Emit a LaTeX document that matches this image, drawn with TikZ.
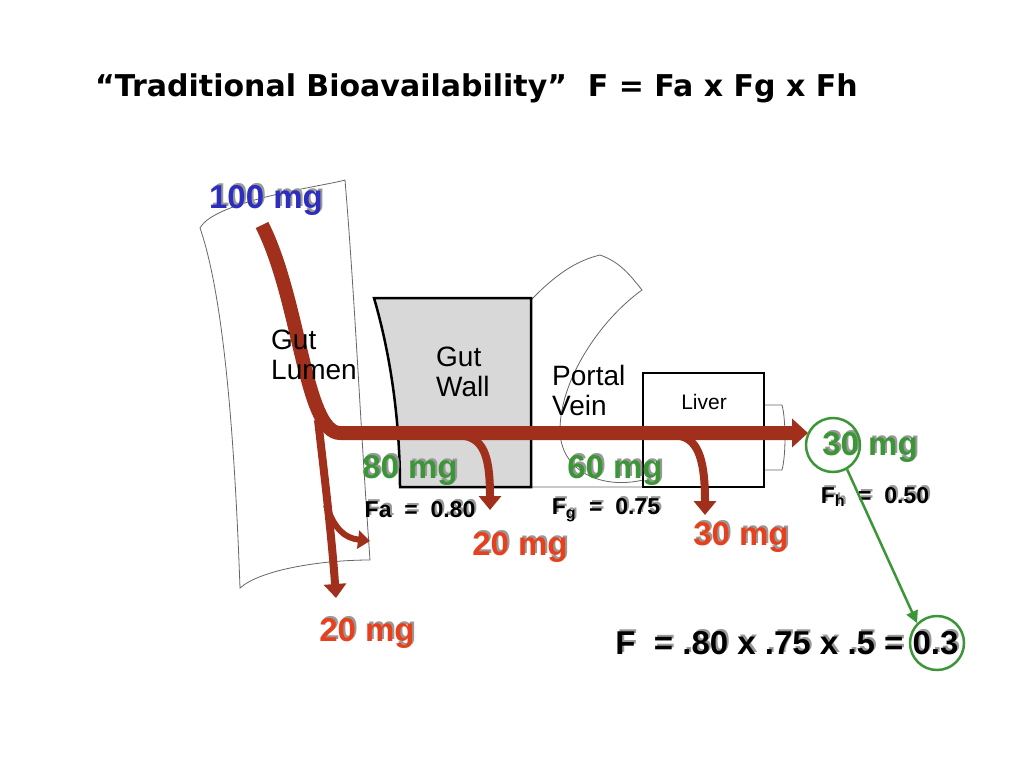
\documentclass[tikz,border=0pt]{standalone}
\usepackage{fontspec}
\setmainfont{Liberation Sans}
\newfontfamily\titlefont{DejaVu Sans}
\usetikzlibrary{arrows.meta}
\definecolor{flow}{RGB}{160,48,28}
\definecolor{redt}{RGB}{232,64,28}
\definecolor{greent}{RGB}{60,150,55}
\definecolor{bluet}{RGB}{45,45,190}
\definecolor{wallg}{RGB}{216,216,216}
\tikzset{
  outl/.style={draw=black!60,line width=0.8pt},
  box/.style={draw=black,line width=2.5pt},
  flw/.style={draw=flow,line width=14pt},
  flwthin/.style={draw=flow,line width=8pt},
  lab/.style={font=\fontsize{28}{30}\selectfont,align=left,inner sep=0pt,anchor=west},
  big/.style={font=\bfseries\fontsize{33}{36}\selectfont,inner sep=0pt},
  small/.style={font=\bfseries\fontsize{23}{25}\selectfont,inner sep=0pt},
  ring/.style={draw=greent,line width=2.5pt,circle,minimum size=54pt,inner sep=0pt},
}
\newcommand\shlabel[5]{%
  \node[#3,text=black!40] at ([xshift=2pt,yshift=2pt]#2) {#5};
  \node[#3,text=#4] (#1) at (#2) {#5};}
\begin{document}
\begin{tikzpicture}[x=1pt,y=-1pt]
\useasboundingbox[fill=white] (0,0) rectangle (1024,768);
% title
\node[font=\titlefont\fontsize{30}{32}\selectfont\bfseries,anchor=west,inner sep=0pt] (title) at (95,88) {“Traditional Bioavailability”\ \ F = Fa x Fg x Fh};
% gut lumen tube
\draw[outl,fill=white] (200,228) .. controls (215,200) and (330,185) .. (345,180)
  .. controls (355,300) and (360,420) .. (370,560)
  .. controls (320,560) and (260,570) .. (240,588)
  .. controls (235,450) and (225,300) .. (200,228) -- cycle;
% portal vein tube
\draw[outl,fill=white] (531,300) .. controls (560,270) and (580,260) .. (600,255)
  .. controls (620,262) and (630,275) .. (642,290)
  .. controls (600,320) and (560,380) .. (560,430)
  .. controls (560,470) and (600,490) .. (643,480) -- (643,487) -- (531,487) -- cycle;
% tube right of liver
\draw[outl] (764,405) -- (782,405) .. controls (786,420) and (786,455) .. (782,470) -- (764,470);
% gut wall
\draw[box,fill=wallg] (374,298) -- (531,298) -- (531,487) -- (400,487)
  .. controls (400,440) and (395,370) .. (374,298) -- cycle;
% liver
\draw[box,fill=white] (643,373) rectangle (764,487);
% flows
\coordinate (src) at (262,225);
\coordinate (bend) at (340,433);
\coordinate (out) at (808,433);
\draw[flw,-{Triangle[length=16pt,width=28pt]}] (src) .. controls (300,300) and (305,433) .. (bend) -- (out);
\coordinate (d1) at (336,598);
\draw[flwthin,-{Triangle[length=14pt,width=22pt]}] (318,420) .. controls (325,480) and (332,540) .. (d1);
\coordinate (d1b) at (370,541);
\draw[flw,line width=6pt,-{Triangle[length=12pt,width=18pt]}] (326,505) .. controls (335,530) and (345,538) .. (d1b);
\coordinate (d2) at (490,510);
\draw[flwthin,-{Triangle[length=14pt,width=22pt]}] (465,436) .. controls (485,440) and (490,460) .. (d2);
\coordinate (d3) at (705,515);
\draw[flwthin,-{Triangle[length=14pt,width=22pt]}] (680,436) .. controls (700,440) and (705,465) .. (d3);
% labels in boxes
\node[lab] (lumen) at (271,355) {Gut\\Lumen};
\node[lab] (wall) at (436,372) {Gut\\Wall};
\node[lab] (portal) at (552,390) {Portal\\Vein};
\node[font=\fontsize{21}{23}\selectfont] (liver) at (704,402) {Liver};
% text labels
\shlabel{m100}{266,200}{big}{bluet}{100 mg}
\shlabel{m80}{410,470}{big}{greent}{80 mg}
\shlabel{m60}{615,470}{big}{greent}{60 mg}
\shlabel{m30}{870,447}{big}{greent}{30 mg}
\shlabel{r20a}{520,547}{big}{redt}{20 mg}
\shlabel{r30}{741,537}{big}{redt}{30 mg}
\shlabel{r20b}{367,633}{big}{redt}{20 mg}
\shlabel{fa}{420,510}{small}{black}{Fa\ \ =\ \ 0.80}
\shlabel{fg}{606,510}{small}{black}{F\textsubscript{g}\ \ =\ \ 0.75}
\shlabel{fh}{875,497}{small}{black}{F\textsubscript{h}\ \ =\ \ 0.50}
\shlabel{eq}{787,643}{big}{black}{F\ \ = .80 x .75 x .5 = 0.3}
% rings and arrow
\node[ring] (c1) at (833,445) {};
\node[ring] (c2) at (937,643) {};
\draw[greent,line width=2.5pt,-{Triangle[length=12pt,width=12pt]}] (c1.-60) -- (c2.north west);
\end{tikzpicture}
\end{document}
